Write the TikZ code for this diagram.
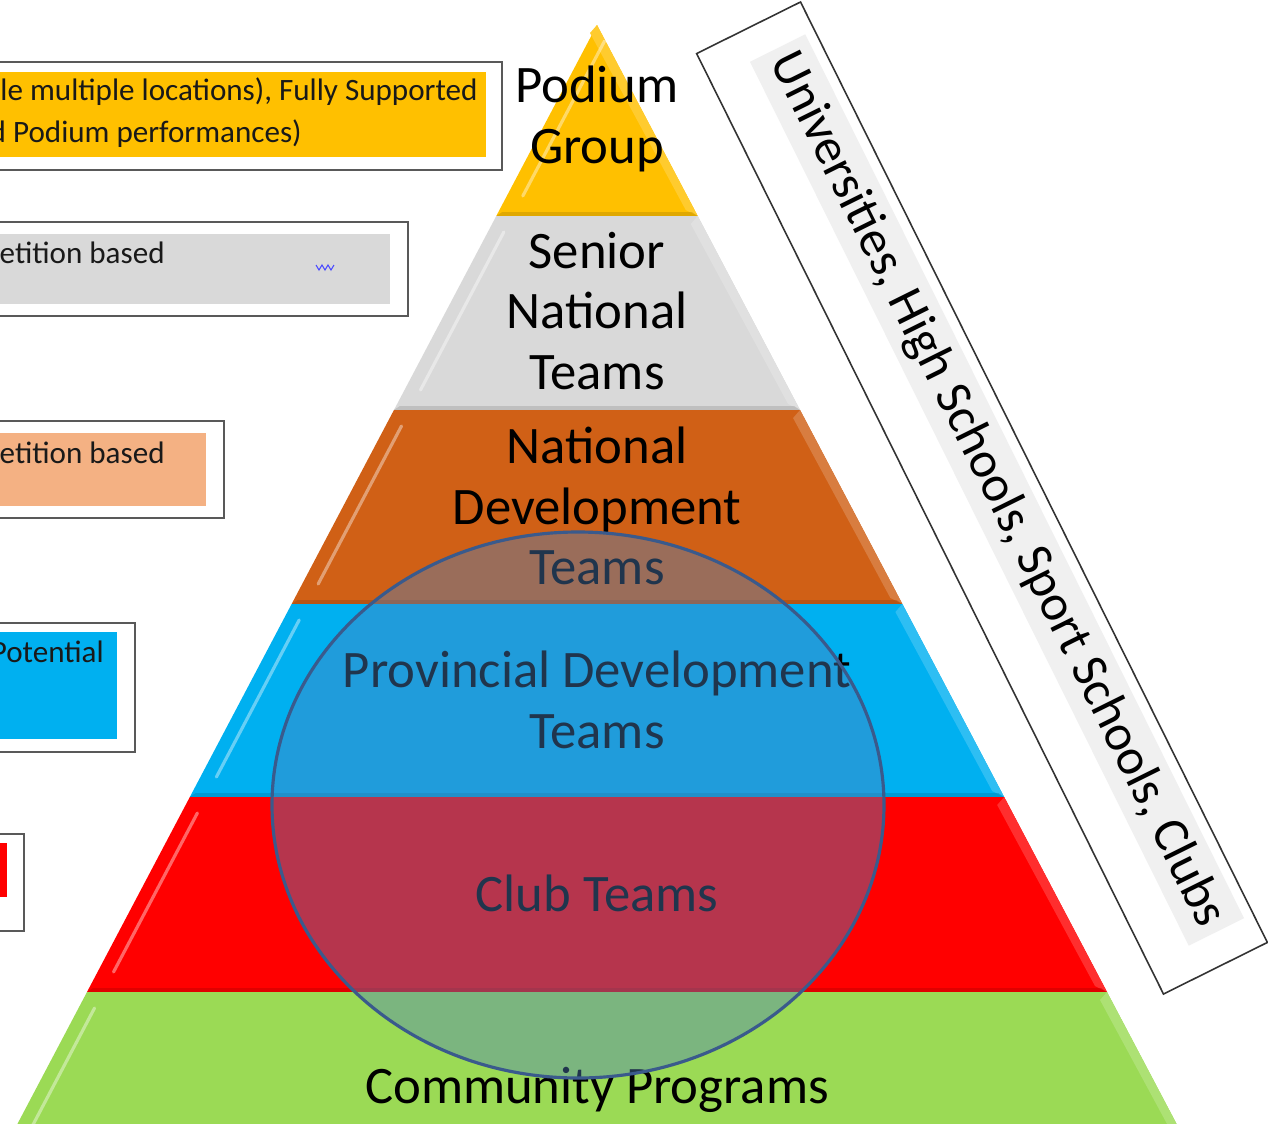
\documentclass[tikz,border=0pt]{standalone}
\usepackage{fontspec}
\setmainfont{Carlito}
\usetikzlibrary{calc}

\definecolor{podium}{RGB}{255,192,0}
\definecolor{senior}{RGB}{217,217,217}
\definecolor{natdev}{RGB}{208,96,22}
\definecolor{provdev}{RGB}{0,176,240}
\definecolor{club}{RGB}{255,0,0}
\definecolor{community}{RGB}{155,218,85}
\definecolor{salmon}{RGB}{244,177,131}
\definecolor{ringfill}{RGB}{79,129,189}
\definecolor{ringedge}{RGB}{58,90,140}

\tikzset{
  tiertext/.style={align=center, inner sep=0pt, text=black, font=\fontsize{30}{34.6}\selectfont},
  notetext/.style={inner sep=0pt, text=black!90, font=\fontsize{17.7}{23.8}\selectfont},
  notebox/.style={draw=black!65, line width=1.2pt, fill=white},
}

% one tier of the pyramid: colour, top y, bottom y (apex at 597,25)
\newcommand{\tier}[3]{%
  \pgfmathsetmacro{\wt}{0.5274*(#2-25)}
  \pgfmathsetmacro{\wb}{0.5274*(#3-25)}
  \pgfmathsetmacro{\st}{597-0.5274*(#2+16-25)+16}
  \pgfmathsetmacro{\sb}{597-0.5274*(#3-20-25)+16}
  \fill[#1] (597-\wt,#2) -- (597+\wt,#2) -- (597+\wb,#3) -- (597-\wb,#3) -- cycle;
  % bevel: lit rim on the right, shaded base, streak on the left
  \fill[#1!82!white] (597+\wt,#2) -- (597+\wb,#3) -- (597+\wb-12,#3-6) -- (597+\wt-7,#2+8) -- cycle;
  \fill[#1!70!black, opacity=.4] (597-\wb,#3) -- (597+\wb,#3) -- (597+\wb-6,#3-4) -- (597-\wb+6,#3-4) -- cycle;
  \draw[white, opacity=.4, line width=1.8pt, line cap=round] (\sb,#3-20) -- (\st,#2+16);
}

\begin{document}
\begin{tikzpicture}[x=0.02cm, y=-0.02cm]
\useasboundingbox (0,0) rectangle (1268,1123);
\clip (0,0) rectangle (1268,1123);

% notes on the left, cut by the page edge
\draw[notebox] (-10,62) rectangle (502,170);
\fill[podium] (-10,72) rectangle (486,157);
\node[notetext, anchor=east] (n1a) at (478,92) {le multiple locations), Fully Supported};
\node[notetext, anchor=east] (n1b) at (302,134) {d Podium performances)};

\draw[notebox] (-10,222) rectangle (408,316);
\fill[senior] (-10,234) rectangle (390,304);
\node[notetext, anchor=east] (n2) at (165,253) {etition based};
\draw[blue!70!white, line width=0.6pt] (316,265) -- (319,270) -- (322,265) -- (325,270) -- (328,265) -- (331,270) -- (334,265);

\draw[notebox] (-10,421) rectangle (224,518);
\fill[salmon] (-10,433) rectangle (206,506);
\node[notetext, anchor=east] (n3) at (165,453) {etition based};

\draw[notebox] (-10,623) rectangle (135,752);
\fill[provdev] (-10,632) rectangle (117,739);
\node[notetext, anchor=east] (n4) at (104,652) {Potential};

\draw[notebox] (-10,834) rectangle (24,931);
\fill[club] (-10,843) rectangle (7,897);

% pyramid
\tier{podium}{25}{216}
\tier{senior}{216}{410}
\tier{natdev}{410}{604}
\tier{provdev}{604}{797}
\tier{club}{797}{992}
\tier{community}{992}{1186}

\node[tiertext] (podium) at (597,119) {Podium\\Group};
\node[tiertext] (senior) at (597,311) {Senior\\National\\Teams};
\node[tiertext] (natdev) at (597,506) {National\\Development\\Teams};
\node[tiertext] (provdev) at (597,700) {Provincial Development\\Teams};
\node[tiertext] (club) at (597,893) {Club Teams};
\node[tiertext] (community) at (597,1090) {Community Programs};

% overlay ring
\draw[ringedge, line width=1.8pt, fill=ringfill, fill opacity=0.41] (578,805) ellipse [x radius=306, y radius=273];

% slanted side label
\draw[black!80, line width=0.9pt, fill=white, rotate around={-63.6:(982,498)}] (457,440) rectangle (1507,556);
\node[rotate=-63.6, fill=black!6, inner sep=5pt, text=black, font=\fontsize{29}{34}\selectfont] (sidetext) at (997,490) {Universities, High Schools, Sport Schools, Clubs};
\end{tikzpicture}
\end{document}
